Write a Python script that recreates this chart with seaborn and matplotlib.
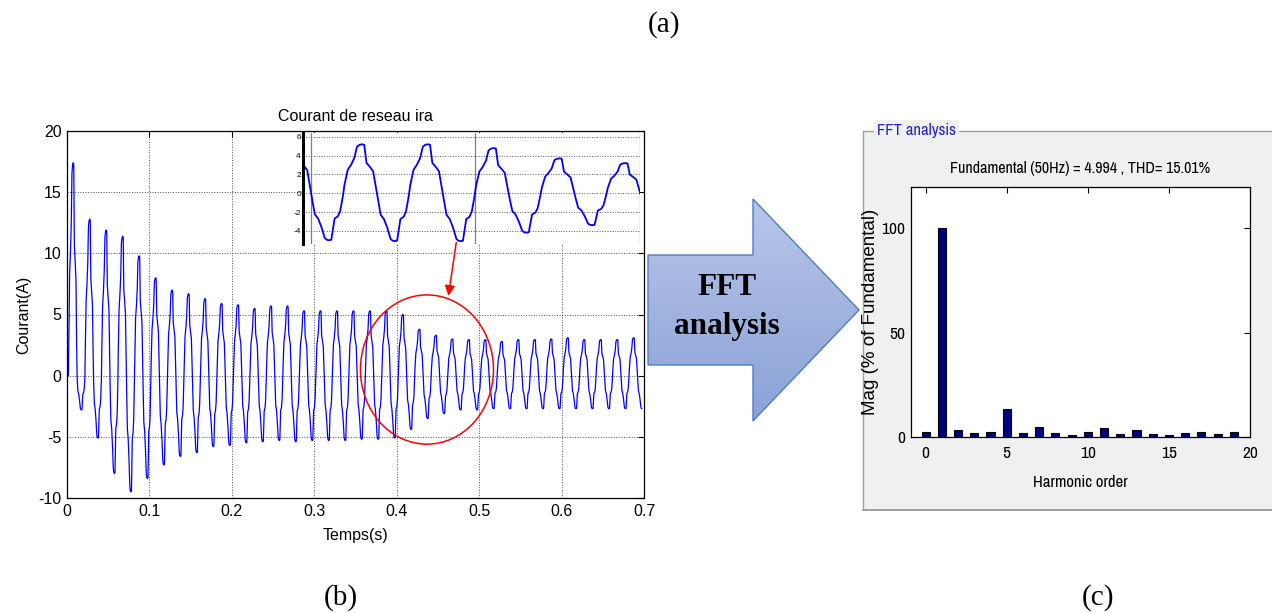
import numpy as np
import pandas as pd
import matplotlib
matplotlib.use("Agg")
import matplotlib.pyplot as plt
import seaborn as sns
from matplotlib.patches import Polygon, Ellipse, FancyArrowPatch, Rectangle
from matplotlib.colors import LinearSegmentedColormap

# ---------------------------------------------------------------- data
PERIOD = 0.02  # 50 Hz grid

# main current ira: peak / trough of every cycle (A)
main_peaks = [17.4, 12.8, 11.9, 11.4, 9.8, 8.0, 7.0, 6.7, 6.3, 5.9, 5.8, 5.5,
              5.7, 5.7, 5.3, 5.3, 5.3, 5.3, 5.3, 5.3, 5.0, 3.8, 3.3, 3.0,
              2.95, 2.95, 2.8, 2.95, 2.95, 3.0, 3.1, 2.95, 2.95, 2.95, 3.1]
main_troughs = [0.0, -2.8, -5.1, -8.0, -9.5, -8.4, -7.3, -6.6, -6.3, -5.8,
                -5.7, -5.5, -5.4, -5.3, -5.4, -5.3, -5.3, -5.3, -5.2, -5.2,
                -5.1, -4.4, -3.5, -3.1, -2.8, -2.8, -2.7, -2.7, -2.7, -2.7,
                -2.7, -2.7, -2.7, -2.7, -2.7, -2.7]
MAIN_TROUGH_T0 = -0.0025

# zoomed window (inset)
inset_peaks = [5.4, 5.2, 5.2, 4.8, 3.7, 3.2]
inset_troughs = [-5.0, -5.1, -5.1, -4.2, -3.4, -3.0]
INSET_PEAK_T0 = 0.3955

# normalised wave shape of one cycle (phase measured from the trough)
rise_phase = [0.0, 0.035, 0.06, 0.085, 0.135, 0.17, 0.21, 0.235, 0.285, 0.335,
              0.385, 0.425, 0.465, 0.5]
rise_shape = [-1.0, -0.99, -0.76, -0.54, -0.49, -0.38, -0.07, 0.17, 0.48, 0.58,
              0.72, 0.95, 0.99, 1.0]
fall_phase = [0.5, 0.535, 0.57, 0.62, 0.67, 0.71, 0.745, 0.785, 0.835, 0.885,
              0.935, 0.965, 1.0]
fall_shape = [1.0, 0.99, 0.62, 0.54, 0.45, 0.14, -0.14, -0.45, -0.54, -0.72,
              -0.95, -0.99, -1.0]

# FFT spectrum
harmonic_order = list(range(20))
harmonic_mag = [2.4, 100, 3.2, 1.8, 2.4, 13.1, 1.8, 4.7, 1.8, 1.0, 2.4, 4.0,
                1.1, 3.2, 1.1, 1.0, 1.8, 2.4, 1.1, 2.4]

main_xticks = [0, 0.1, 0.2, 0.3, 0.4, 0.5, 0.6, 0.7]
main_xticklabels = ["0", "0.1", "0.2", "0.3", "0.4", "0.5", "0.6", "0.7"]
main_yticks = [-10, -5, 0, 5, 10, 15, 20]
inset_yticks = [-4, -2, 0, 2, 4, 6]
fft_xticks = [0, 5, 10, 15, 20]
fft_yticks = [0, 50, 100]


def build_wave(times, values):
    """Join successive extremes with the rising / falling half-cycle shape."""
    t_out, y_out = [], []
    rp, rs = np.array(rise_phase), np.array(rise_shape)
    fp, fs = np.array(fall_phase), np.array(fall_shape)
    for i in range(len(times) - 1):
        ta, tb = times[i], times[i + 1]
        va, vb = values[i], values[i + 1]
        if va < vb:
            ph, sh, trough, peak = rp, rs, va, vb
        else:
            ph, sh, trough, peak = fp, fs, vb, va
        frac = (ph - ph[0]) / 0.5
        t = ta + frac * (tb - ta)
        y = np.where(sh < 0, sh * abs(trough), sh * peak)
        if i < len(times) - 2:
            t, y = t[:-1], y[:-1]
        t_out.extend(t)
        y_out.extend(y)
    return np.array(t_out), np.array(y_out)


# interleave extremes: trough, peak, trough, ...
main_t, main_v = [], []
for k in range(len(main_peaks)):
    main_t += [MAIN_TROUGH_T0 + PERIOD * k, MAIN_TROUGH_T0 + PERIOD * (k + 0.5)]
    main_v += [main_troughs[k], main_peaks[k]]
main_t.append(MAIN_TROUGH_T0 + PERIOD * len(main_peaks))
main_v.append(main_troughs[len(main_peaks)])
t_main, i_main = build_wave(main_t, main_v)
df_main = pd.DataFrame({"Temps": t_main, "Courant": i_main})

ins_t, ins_v = [], []
for k in range(len(inset_peaks)):
    ins_t += [INSET_PEAK_T0 + PERIOD * k, INSET_PEAK_T0 + PERIOD * (k + 0.5)]
    ins_v += [inset_peaks[k], inset_troughs[k]]
t_in, i_in = build_wave(ins_t, ins_v)
df_in = pd.DataFrame({"Temps": t_in, "Courant": i_in})

df_fft = pd.DataFrame({"order": harmonic_order, "mag": harmonic_mag})

# ---------------------------------------------------------------- style
sns.set_theme(style="white")
plt.rcParams["font.family"] = ["Liberation Sans", "DejaVu Sans"]
plt.rcParams["axes.unicode_minus"] = False
for key in ("text.color", "axes.labelcolor", "xtick.color", "ytick.color",
            "xtick.labelcolor", "ytick.labelcolor"):
    plt.rcParams[key] = "black"
NARROW = ["Archivo Narrow", "Liberation Sans", "DejaVu Sans"]
SERIF = ["Liberation Serif", "DejaVu Serif"]

W, H = 1272, 613
fig = plt.figure(figsize=(W / 100, H / 100), dpi=100)
fig.patch.set_facecolor("white")


def px_rect(x0, y0, x1, y1):
    return [x0 / W, 1 - y1 / H, (x1 - x0) / W, (y1 - y0) / H]


ax_bg = fig.add_axes([0, 0, 1, 1], zorder=-1)
ax = fig.add_axes(px_rect(67, 131, 644, 498))
ax_in = fig.add_axes(px_rect(303, 133, 640, 244))
ax_fft = fig.add_axes(px_rect(911, 186.7, 1250, 436.7))

# ---------------------------------------------------------------- main current plot
sns.lineplot(data=df_main, x="Temps", y="Courant", ax=ax, color="#0000FF",
             lw=0.9, sort=False, estimator=None)
ax.set_xlim(0, 0.7)
ax.set_ylim(-10, 20)
ax.set_xticks(main_xticks)
ax.set_xticklabels(main_xticklabels)
ax.set_yticks(main_yticks)
ax.tick_params(direction="in", top=True, right=True, length=4, width=0.8,
               labelsize=11.5, colors="black", pad=4)
ax.grid(True, ls=":", color="0.3", lw=0.7)
for s in ax.spines.values():
    s.set_color("black")
    s.set_linewidth(0.9)
ax.set_title("Courant de reseau ira", fontsize=11.5, pad=7, color="black")
ax.set_xlabel("Temps(s)", fontsize=11.5, labelpad=7)
ax.set_ylabel("Courant(A)", fontsize=11.5, labelpad=5)
ax.add_patch(Ellipse((0.4367, 0.5), 0.1614, 12.2, fill=False, ec="red",
                     lw=1.1, zorder=5))

# ---------------------------------------------------------------- inset
ax_in.set_facecolor("white")
sns.lineplot(data=df_in, x="Temps", y="Courant", ax=ax_in, color="#0000FF",
             lw=1.3, sort=False, estimator=None)
ax_in.set_xlim(0.3976, 0.5)
ax_in.set_ylim(-5.4, 6.4)
ax_in.set_yticks(inset_yticks)
ax_in.set_xticks([0.4, 0.45, 0.5])
ax_in.set_xticklabels([])
ax_in.set_xlabel("")
ax_in.set_ylabel("")
ax_in.tick_params(axis="y", direction="in", length=2, pad=1.5, labelsize=6)
ax_in.tick_params(axis="x", length=0)
ax_in.grid(True, axis="y", ls=":", color="0.35", lw=0.7)
ax_in.grid(True, axis="x", ls="-", color="0.5", lw=0.9)
for side in ("top", "right", "bottom"):
    ax_in.spines[side].set_visible(False)
ax_in.spines["left"].set_color("black")
ax_in.spines["left"].set_linewidth(2.2)

fig.add_artist(FancyArrowPatch(posA=(0.4727, 11.1), posB=(0.4622, 6.3),
                               transform=ax.transData, arrowstyle="-|>",
                               mutation_scale=15, color="red", lw=1.1))

# ---------------------------------------------------------------- background layer
ax_bg.set_xlim(0, W)
ax_bg.set_ylim(H, 0)
ax_bg.axis("off")

# FFT panel frame
PANEL = (863, 130.7, W + 2, 509.5)
ax_bg.add_patch(Rectangle((PANEL[0], PANEL[1]), PANEL[2] - PANEL[0],
                          PANEL[3] - PANEL[1], fc="#F0F0F0", ec="none"))
ax_bg.plot([PANEL[0], PANEL[0]], [PANEL[1], PANEL[3]], color="#A0A0A0", lw=1)
ax_bg.plot([PANEL[0], PANEL[2]], [PANEL[3], PANEL[3]], color="#909090", lw=1.2)
ax_bg.plot([PANEL[0], PANEL[2]], [PANEL[1], PANEL[1]], color="#A0A0A0", lw=1)
ax_bg.text(877, PANEL[1], "FFT analysis", ha="left", va="center",
           color="#2323CC", fontsize=12, family=NARROW,
           bbox=dict(fc="#F0F0F0", ec="none", pad=2))

# block arrow with vertical gradient
arrow_pts = [(648, 255), (753, 255), (753, 199), (859, 310), (753, 421),
             (753, 365), (648, 365)]
arrow = Polygon(arrow_pts, closed=True, fc="none", ec="#4F7BC8", lw=1.0,
                zorder=3)
ax_bg.add_patch(arrow)
grad_cmap = LinearSegmentedColormap.from_list("arrow", ["#B8C6E8", "#8AA2D7"])
grad = np.linspace(0, 1, 256).reshape(-1, 1)
img = ax_bg.imshow(grad, cmap=grad_cmap, extent=(648, 859, 421, 199),
                   origin="upper", aspect="auto", zorder=2)
img.set_clip_path(arrow)
ax_bg.set_xlim(0, W)
ax_bg.set_ylim(H, 0)
ax_bg.text(727, 295, "FFT", ha="center", va="baseline", fontsize=22.5,
           weight="bold", family=SERIF, color="black", zorder=4)
ax_bg.text(727, 334, "analysis", ha="center", va="baseline", fontsize=22.5,
           weight="bold", family=SERIF, color="black", zorder=4)

# captions
for label, cx, cy in (("(a)", 664, 24.5), ("(b)", 341, 598), ("(c)", 1098, 598)):
    ax_bg.text(cx, cy, label, ha="center", va="center", fontsize=21,
               family=SERIF, color="black")

# ---------------------------------------------------------------- FFT bars
ax_fft.set_facecolor("white")
sns.barplot(data=df_fft, x="order", y="mag", ax=ax_fft, native_scale=True,
            width=0.5, color="#000080", edgecolor="black", linewidth=0.8,
            saturation=1)
ax_fft.set_xlim(-0.9, 20)
ax_fft.set_ylim(0, 120)
ax_fft.set_xticks(fft_xticks)
ax_fft.set_xticklabels([str(v) for v in fft_xticks])
ax_fft.set_yticks(fft_yticks)
ax_fft.tick_params(direction="in", top=True, right=True, length=4, width=0.8,
                   labelsize=12.5, colors="black")
ax_fft.tick_params(axis="x", pad=6.5)
ax_fft.tick_params(axis="y", pad=4)
for lab in ax_fft.get_xticklabels() + ax_fft.get_yticklabels():
    lab.set_family(NARROW)
for s in ax_fft.spines.values():
    s.set_color("black")
    s.set_linewidth(0.9)
ax_fft.set_xlabel("Harmonic order", fontsize=12, family=NARROW, labelpad=10)
ax_fft.set_ylabel("Mag (% of Fundamental)", fontsize=13.5, labelpad=2)
ax_fft.set_title("Fundamental (50Hz) = 4.994 , THD= 15.01%", fontsize=11.5,
                 family=NARROW, pad=10, color="black")

fig.savefig("out.png", dpi=100, facecolor="white")
